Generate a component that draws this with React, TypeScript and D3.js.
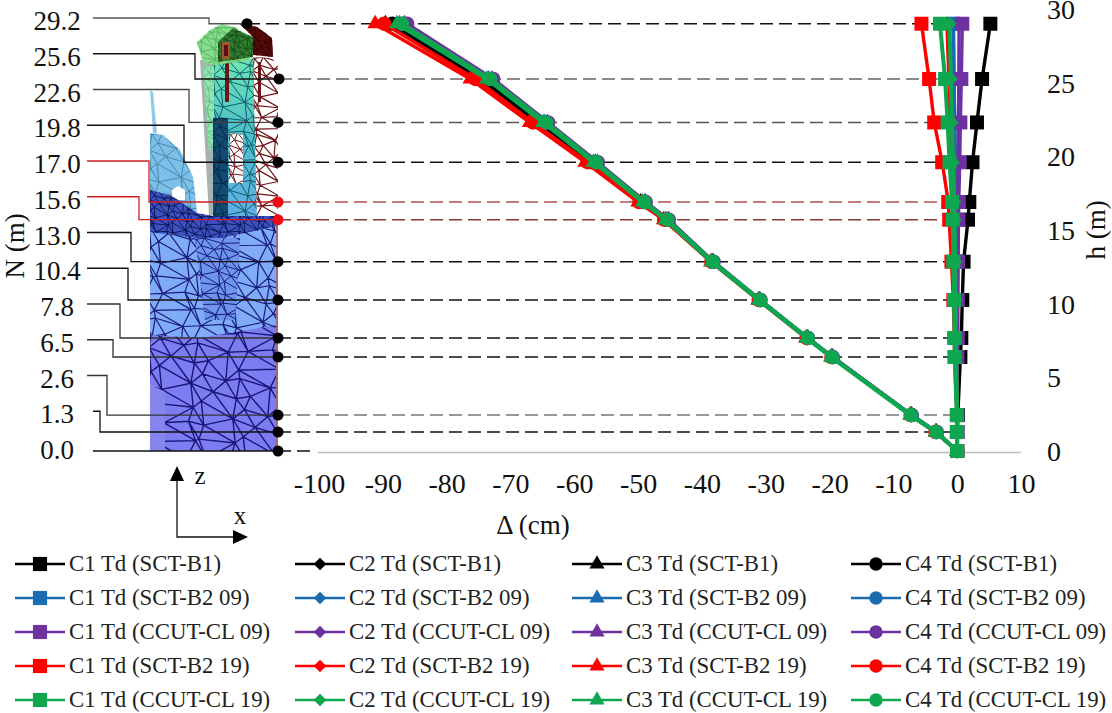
import React from 'react';
import * as d3 from 'd3';

// storey levels, top to bottom
const nodeLabels = ['29.2', '25.6', '22.6', '19.8', '17.0', '15.6', '13.0', '10.4', '7.8', '6.5', '2.6', '1.3', '0.0'];
const levelHeights = [29.0, 25.25, 22.3, 19.6, 16.9, 15.7, 12.85, 10.25, 7.67, 6.38, 2.44, 1.29, 0];
const levelColors = ['#111', '#666', '#555', '#111', '#b05050', '#853a3a', '#111', '#111', '#111', '#111', '#777', '#111', '#111'];
const leaderColors = ['#555', '#111', '#444', '#111', '#d02020', '#d02020', '#111', '#111', '#333', '#333', '#333', '#111', '#111'];
const leaderStart = [93, 93, 93, 87, 87, 87, 87, 87, 87, 87, 87, 93, 93];
const leaderElbow = [209, 195, 189, 184, 149, 139, 131, 128, 120, 113, 107, 100, 100];
const dotOffset = [247, 279, 278, 278, 278, 278, 278, 278, 278, 278, 278, 278, 278];

const xTicks = [-100, -90, -80, -70, -60, -50, -40, -30, -20, -10, 0, 10];
const hTicks = [0, 5, 10, 15, 20, 25, 30];

// displacement in cm at each level
const c1B1 = [5.2, 3.9, 3.1, 2.4, 1.9, 1.7, 1.0, 0.8, 0.65, 0.5, 0.1, 0.05, 0];
const c2B1 = [-1.5, -1.2, -1.0, -0.7, -0.5, -0.45, -0.3, -0.2, -0.15, -0.1, 0, 0, 0];
const c3B1 = [-89.6, -75, -66, -57.6, -49.6, -45.7, -38.4, -31, -23.5, -19.6, -7.2, -3.3, 0];
const c4B1 = [-88.5, -74.4, -65.6, -57.3, -49.4, -45.6, -38.4, -31, -23.5, -19.6, -7.2, -3.3, 0];

const c1B209 = [-0.6, -0.5, -0.4, -0.3, -0.25, -0.2, -0.15, -0.1, -0.1, -0.05, 0, 0, 0];
const c2B209 = [-0.6, -0.5, -0.4, -0.3, -0.25, -0.2, -0.15, -0.1, -0.1, -0.05, 0, 0, 0];
const c3B209 = [-87.4, -73.4, -64.6, -56.7, -49, -45.4, -38.3, -30.9, -23.4, -19.5, -7.2, -3.3, 0];
const c4B209 = [-86.9, -73, -64.3, -56.5, -48.9, -45.3, -38.2, -30.9, -23.4, -19.5, -7.2, -3.3, 0];

const c1Cl09 = [0.8, 0.65, 0.5, 0.4, 0.25, 0.2, 0.15, 0.1, 0.1, 0.05, 0, 0, 0];
const c2Cl09 = [0.3, 0.25, 0.2, 0.15, 0.1, 0.1, 0.05, 0.05, 0, 0, 0, 0, 0];
const c3Cl09 = [-86.6, -72.9, -64.2, -56.4, -48.8, -45.2, -38.2, -30.9, -23.4, -19.5, -7.1, -3.2, 0];
const c4Cl09 = [-86.2, -72.7, -64.1, -56.3, -48.8, -45.2, -38.2, -30.8, -23.4, -19.5, -7.1, -3.2, 0];

const c1B219 = [-5.6, -4.4, -3.6, -2.35, -1.4, -1.25, -0.9, -0.6, -0.45, -0.4, -0.05, -0.05, 0];
const c2B219 = [-1.6, -1.3, -1.1, -0.8, -0.6, -0.5, -0.35, -0.25, -0.2, -0.15, 0, 0, 0];
const c3B219 = [-91.2, -76.3, -67, -58.3, -50, -46, -38.6, -31.2, -23.7, -19.7, -7.3, -3.4, 0];
const c4B219 = [-89.8, -75.5, -66.5, -57.9, -49.8, -45.9, -38.5, -31.1, -23.6, -19.7, -7.3, -3.4, 0];

const c1Cl19 = [-2.7, -1.9, -1.5, -1.2, -0.8, -0.7, -0.6, -0.5, -0.4, -0.4, -0.05, -0.05, 0];
const c2Cl19 = [-1.2, -1.0, -0.85, -0.65, -0.45, -0.4, -0.3, -0.25, -0.2, -0.15, 0, 0, 0];
const c3Cl19 = [-87.8, -73.7, -64.9, -57, -49.3, -45.7, -38.5, -31.1, -23.6, -19.8, -7.4, -3.4, 0];
const c4Cl19 = [-87, -73.2, -64.4, -56.6, -49, -45.4, -38.3, -30.9, -23.4, -19.6, -7.2, -3.3, 0];

const caseNames = ['SCT-B1', 'SCT-B2 09', 'CCUT-CL 09', 'SCT-B2 19', 'CCUT-CL 19'];
const caseColors = ['#000000', '#1a6cb0', '#6f30a0', '#ff0000', '#0fa650'];
const columnNames = ['C1', 'C2', 'C3', 'C4'];
const caseValues = [
  [c1B1, c2B1, c3B1, c4B1],
  [c1B209, c2B209, c3B209, c4B209],
  [c1Cl09, c2Cl09, c3Cl09, c4Cl09],
  [c1B219, c2B219, c3B219, c4B219],
  [c1Cl19, c2Cl19, c3Cl19, c4Cl19],
];

const FONT = '"Liberation Serif", "Times New Roman", serif';
const symbolTypes = [d3.symbolSquare, d3.symbolDiamond2, d3.symbolTriangle, d3.symbolCircle];
const symbolSizes = [196, 125, 105, 165];
const legendSizes = [200, 100, 100, 140];
const legendColumnX = [15, 295, 572, 851];

type AnySelection = d3.Selection<any, unknown, null, undefined>;
type Pt = [number, number];

const jitter = [0, 3, -2, 4, -3, 1, -4, 2];

// staggered points so the Delaunay triangles look like the FE mesh
const meshPath = (x0: number, x1: number, y0: number, y1: number, step: number) => {
  const pts: Pt[] = [];
  let row = 0;
  for (let y = y0; y <= y1 + step; y += step * 0.85) {
    let col = 0;
    for (let x = x0 - step; x <= x1 + step; x += step) {
      const k = step / 9;
      pts.push([
        x + (row % 2 ? step / 2 : 0) + jitter[(row * 3 + col * 5) % 8] * k,
        y + jitter[(row * 5 + col * 3 + 2) % 8] * k,
      ]);
      col += 1;
    }
    row += 1;
  }
  return d3.Delaunay.from(pts).render();
};

const drawZone = (
  g: AnySelection,
  id: string,
  outline: Pt[],
  fill: string,
  meshColor: string | null,
  step = 20,
  meshWidth = 1,
) => {
  const line = d3.line().curve(d3.curveLinearClosed);
  g.append('clipPath').attr('id', `clip-${id}`).append('path').attr('d', line(outline));
  g.append('path').attr('d', line(outline)).attr('fill', fill);
  if (meshColor) {
    const xs = outline.map(p => p[0]);
    const ys = outline.map(p => p[1]);
    g.append('path')
      .attr('d', meshPath(d3.min(xs)!, d3.max(xs)!, d3.min(ys)!, d3.max(ys)!, step))
      .attr('clip-path', `url(#clip-${id})`)
      .attr('fill', 'none')
      .attr('stroke', meshColor)
      .attr('stroke-width', meshWidth);
  }
};

const drawBuilding = (g: AnySelection) => {
  const defs = g.append('defs');
  const towerGrad = defs.append('linearGradient').attr('id', 'towerFill').attr('x1', 0).attr('x2', 0).attr('y1', 0).attr('y2', 1);
  towerGrad.append('stop').attr('offset', '0%').attr('stop-color', '#6fe6b4');
  towerGrad.append('stop').attr('offset', '45%').attr('stop-color', '#4fc0c8');
  towerGrad.append('stop').attr('offset', '100%').attr('stop-color', '#62ace8');

  // finial and dome
  drawZone(g, 'finial', [[150, 90], [153, 92], [157, 133], [153, 133]], '#8fcbe8', null);
  drawZone(g, 'dome', [[150, 133], [163, 135], [180, 150], [193, 177], [195, 193], [197, 213], [150, 213]], '#7cc0ea', '#4d86a8', 16);
  g.append('path').attr('d', 'M172,200V190L178,186L185,190V200Z').attr('fill', '#fff');

  // tower body
  drawZone(g, 'towerShade', [[200, 60], [218, 60], [218, 215], [209, 215]], '#a7b3b0', null);
  drawZone(g, 'towerLight', [[203, 65], [222, 65], [222, 150], [209, 150]], '#8fe6b0', '#6cbf8c', 12);
  drawZone(g, 'towerBody', [[214, 60], [262, 58], [262, 220], [214, 220]], 'url(#towerFill)', '#0c5f6c', 16);
  drawZone(g, 'towerDark', [[213, 118], [228, 118], [228, 220], [213, 220]], '#124a72', '#082a4c', 14);
  drawZone(g, 'towerRed', [[253, 57], [272, 58], [278, 66], [278, 220], [257, 220]], '#ffffff', '#6e1518', 13, 1.2);
  drawZone(g, 'openA', [[229, 133], [243, 135], [243, 183], [229, 183]], '#fff', '#6e1518', 11);
  g.append('rect').attr('x', 225).attr('y', 62).attr('width', 4).attr('height', 40).attr('fill', '#6e1518');
  g.append('rect').attr('x', 258).attr('y', 62).attr('width', 3).attr('height', 40).attr('fill', '#6e1518');

  // top of the tower
  drawZone(g, 'topGreen', [[197, 42], [210, 30], [222, 24], [237, 28], [250, 60], [215, 65], [203, 62]], '#86de8a', '#5cb466', 9);
  drawZone(g, 'topDark', [[218, 42], [233, 28], [253, 37], [253, 57], [218, 62]], '#2f7d2f', '#1c4d1c', 8);
  drawZone(g, 'topRed', [[240, 24], [257, 27], [272, 38], [273, 57], [253, 55], [253, 37]], '#5a0c0c', '#3a0505', 7);
  g.append('rect').attr('x', 222).attr('y', 42).attr('width', 8).attr('height', 17).attr('fill', '#a0562c');
  g.append('rect').attr('x', 224).attr('y', 45).attr('width', 4).attr('height', 11).attr('fill', '#5a1010');

  // masonry block
  drawZone(g, 'midBlue', [[150, 205], [172, 205], [196, 215], [213, 218], [276, 218], [276, 342], [150, 342]], '#7fabf8', '#181c78', 19, 1.2);
  drawZone(g, 'denseTop', [[150, 190], [172, 196], [197, 213], [213, 216], [276, 216], [276, 226], [213, 240], [150, 232]], '#3c52c0', '#0a1250', 9, 0.9);
  drawZone(g, 'denseMid', [[195, 238], [240, 238], [235, 320], [205, 320]], '#6f94ee', '#181c78', 12);
  drawZone(g, 'baseViolet', [[150, 335], [200, 338], [276, 325], [276, 451], [165, 451], [165, 392], [150, 385]], '#7d7df2', '#1a1678', 21, 1.4);
  drawZone(g, 'baseLeft', [[150, 385], [165, 392], [165, 451], [150, 451]], '#8585ee', null);
  g.append('line').attr('x1', 277).attr('x2', 277).attr('y1', 219).attr('y2', 451).attr('stroke', '#6e1a30').attr('stroke-width', 1.3);
};

const App: React.FC = () => {
  const svgRef = React.useRef<SVGSVGElement>(null);

  React.useEffect(() => {
    const svg = d3.select(svgRef.current!);
    svg.selectAll('*').remove();

    const xScale = d3.scaleLinear().domain([-100, 10]).range([319, 1021]);
    const yScale = d3.scaleLinear().domain([0, 30]).range([451, 9]);
    const labelScale = d3.scalePoint<string>().domain(nodeLabels).range([21, 450]);
    const leaderY = (i: number) => labelScale(nodeLabels[i])! - 3;

    drawBuilding(svg.append('g').attr('class', 'building'));

    // x axis
    svg.append('line')
      .attr('x1', 318).attr('x2', 1021).attr('y1', 452.5).attr('y2', 452.5)
      .attr('stroke', '#bdbdbd').attr('stroke-width', 1.5);

    svg.append('g')
      .attr('class', 'x-axis')
      .attr('transform', 'translate(0, 451)')
      .call(d3.axisBottom(xScale).tickValues(xTicks).tickSize(0).tickPadding(22).tickFormat(d => String(d)) as any)
      .call((g: AnySelection) => g.select('.domain').remove())
      .call((g: AnySelection) => g.selectAll('text')
        .attr('font-family', FONT).attr('font-size', 28).attr('fill', '#111')
      );

    // h labels on the right
    svg.append('g')
      .selectAll('text')
      .data(hTicks)
      .join('text')
      .attr('x', 1047)
      .attr('y', d => yScale(d) + 10)
      .attr('font-family', FONT).attr('font-size', 28).attr('fill', '#111')
      .text(d => d);

    // level lines and leaders
    const levels = svg.append('g').attr('class', 'levels');
    nodeLabels.forEach((label, i) => {
      const y = yScale(levelHeights[i]);
      levels.append('line')
        .attr('x1', dotOffset[i]).attr('x2', i === 12 ? 316 : 950).attr('y1', y).attr('y2', y)
        .attr('stroke', levelColors[i]).attr('stroke-width', 1.6).attr('stroke-dasharray', '13,6');
      const startY = leaderY(i);
      const pts: Pt[] = i === 12
        ? [[leaderStart[i], y], [dotOffset[i], y]]
        : [[leaderStart[i], startY], [leaderElbow[i], startY], [leaderElbow[i], y], [dotOffset[i], y]];
      levels.append('path')
        .attr('d', d3.line()(pts))
        .attr('fill', 'none').attr('stroke', leaderColors[i]).attr('stroke-width', 1.3);
      levels.append('circle')
        .attr('cx', dotOffset[i]).attr('cy', y).attr('r', 5.5)
        .attr('fill', i === 4 || i === 5 ? '#f00a14' : '#000');
      levels.append('text')
        .attr('x', 57).attr('y', labelScale(label)! + 9)
        .attr('text-anchor', 'middle')
        .attr('font-family', FONT).attr('font-size', 27).attr('fill', '#111')
        .text(label);
    });

    // series
    const lineGen = d3.line<number>()
      .x(d => xScale(d))
      .y((_, i) => yScale(levelHeights[i]));
    const plot = svg.append('g').attr('class', 'plot-area');
    caseValues.forEach((columns, c) => {
      columns.forEach((values, k) => {
        plot.append('path')
          .attr('d', lineGen(values))
          .attr('fill', 'none')
          .attr('stroke', caseColors[c])
          .attr('stroke-width', c === 4 ? 4 : 3.4);
        plot.append('g')
          .selectAll('path')
          .data(values)
          .join('path')
          .attr('d', d3.symbol().type(symbolTypes[k]).size(symbolSizes[k])() as string)
          .attr('transform', (d, i) => `translate(${xScale(d)},${yScale(levelHeights[i])})`)
          .attr('fill', caseColors[c]);
      });
    });

    // axis titles
    const title = (text: string, x: number, y: number, rotate = 0, size = 27) => svg.append('text')
      .attr('transform', `translate(${x},${y}) rotate(${rotate})`)
      .attr('text-anchor', 'middle')
      .attr('font-family', FONT).attr('font-size', size).attr('fill', '#111')
      .text(text);
    title('Δ (cm)', 533, 534);
    title('N (m)', 24, 246, -90);
    title('h (m)', 1105, 230, -90);

    // z / x arrows
    const arrows = svg.append('g').attr('class', 'arrows');
    arrows.append('path').attr('d', 'M177,475V537H236').attr('fill', 'none').attr('stroke', '#111').attr('stroke-width', 1.3);
    arrows.append('path').attr('d', 'M177,466L170,481H184Z').attr('fill', '#000');
    arrows.append('path').attr('d', 'M248,537L233,530V544Z').attr('fill', '#000');
    title('z', 200, 484, 0, 25);
    title('x', 240, 524, 0, 25);

    // legend
    const rowY = d3.scalePoint<string>().domain(caseNames).range([564, 700]);
    const legend = svg.append('g').attr('class', 'legend');
    caseNames.forEach((name, c) => {
      columnNames.forEach((col, k) => {
        const y = rowY(name)!;
        const item = legend.append('g').attr('transform', `translate(${legendColumnX[k]},${y})`);
        item.append('line').attr('x1', 0).attr('x2', 50)
          .attr('stroke', caseColors[c]).attr('stroke-width', 2.4);
        item.append('path')
          .attr('d', d3.symbol().type(symbolTypes[k]).size(legendSizes[k])() as string)
          .attr('transform', 'translate(25,0)')
          .attr('fill', caseColors[c]);
        item.append('text')
          .attr('x', 54).attr('y', 6.5)
          .attr('font-family', FONT).attr('font-size', 22.8).attr('fill', '#222')
          .text(`${col} Td (${name})`);
      });
    });
  }, []);

  return (
    <svg
      ref={svgRef}
      width={1112}
      height={713}
      viewBox="0 0 1112 713"
      style={{ position: 'absolute', left: 0, top: 0, background: '#fff' }}
    />
  );
};

export default App;
